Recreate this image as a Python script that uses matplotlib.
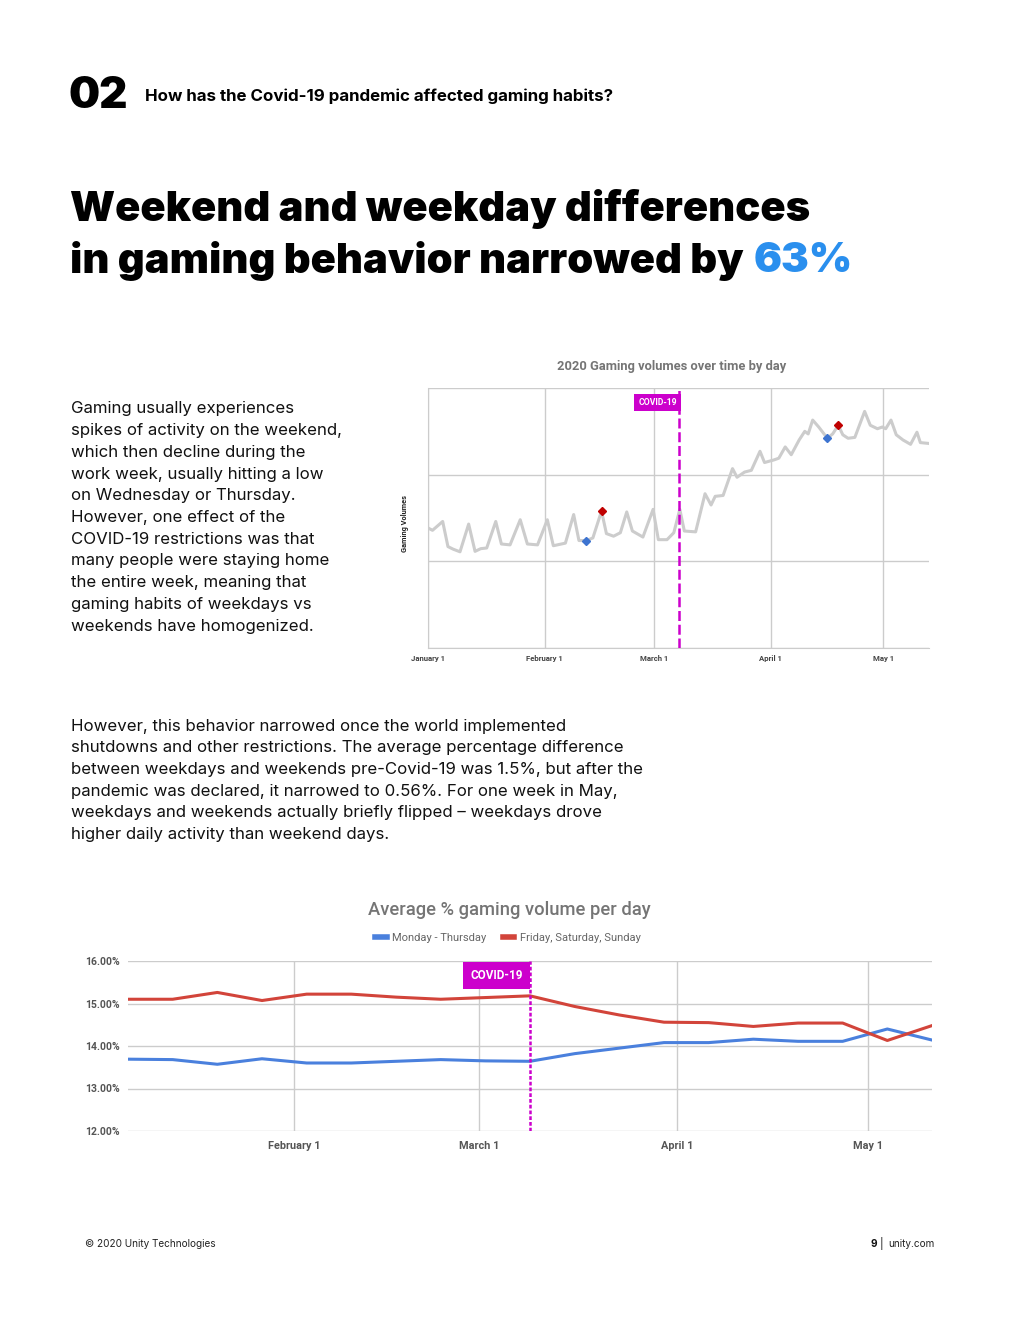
import matplotlib
matplotlib.use('agg')
import matplotlib.pyplot as plt
import numpy as np

W, H = 1020, 1320

# top chart: day of year (Jan 1 = 0) and relative gaming volume
vol_days = [0, 1.2, 3.9, 5.3, 6.7, 8.5, 10.8, 12.5, 14.0, 15.6, 18.0, 19.5, 21.8, 24.5,
            26.4, 29.1, 31.7, 33.3, 36.5, 38.7, 40.1, 42.1, 43.8, 46.1, 47.4, 49.3,
            51.1, 52.8, 54.3, 57.1, 59.8, 61.2, 63.5, 65.3, 66.9, 68.1, 71.1, 73.6,
            75.2, 76.3, 78.4, 80.9, 82.1, 84.1, 85.9, 88.2, 89.4, 91.9, 93.2, 94.9,
            96.5, 98.6, 100.1, 101.0, 102.2, 103.8, 106.1, 107.5, 109.0, 110.2,
            111.6, 113.4, 116.0, 117.5, 119.4, 120.7, 121.6, 123.0, 124.4, 126.2,
            128.2, 129.9, 130.8, 133.1]
vol_vals = [1.385, 1.358, 1.46, 1.17, 1.14, 1.11, 1.43, 1.115, 1.146, 1.154, 1.46, 1.20,
            1.19, 1.48, 1.20, 1.19, 1.48, 1.18, 1.21, 1.54, 1.24, 1.24, 1.27, 1.58,
            1.32, 1.29, 1.33, 1.57, 1.35, 1.28, 1.60, 1.25, 1.25, 1.33, 1.60, 1.35,
            1.34, 1.78, 1.65, 1.75, 1.76, 2.07, 1.97, 2.03, 2.05, 2.27, 2.14, 2.17,
            2.19, 2.32, 2.23, 2.40, 2.50, 2.47, 2.63, 2.55, 2.42, 2.47, 2.57, 2.46,
            2.42, 2.43, 2.73, 2.57, 2.53, 2.55, 2.53, 2.63, 2.46, 2.40, 2.35, 2.49,
            2.37, 2.36]
low_days, low_vals = [42.1, 106.1], [1.24, 2.42]
high_days, high_vals = [46.1, 109.0], [1.58, 2.57]
covid_day_top = 66.6

# bottom chart: weekly averages
week_days = [5, 12, 19, 26, 33, 40, 47, 54, 61, 68, 75, 82, 89, 96, 103, 110, 117, 124, 131]
mon_thu = [13.69, 13.68, 13.57, 13.70, 13.60, 13.60, 13.64, 13.68, 13.65, 13.64,
           13.82, 13.95, 14.08, 14.08, 14.16, 14.11, 14.11, 14.40, 14.14]
fri_sun = [15.10, 15.10, 15.26, 15.07, 15.22, 15.22, 15.15, 15.10, 15.14, 15.18,
           14.93, 14.73, 14.56, 14.55, 14.46, 14.54, 14.54, 14.13, 14.48]
covid_day_bot = 68.0

month_days = [0, 31, 60, 91, 121]
month_labels = ['January 1', 'February 1', 'March 1', 'April 1', 'May 1']

MAGENTA = '#cc00cc'
BODY = 'Inter'
CHART = 'Roboto'

fig = plt.figure(figsize=(W / 100, H / 100), dpi=100)
fig.patch.set_facecolor('white')


def px_axes(x0, y0, x1, y1):
    return fig.add_axes([x0 / W, 1 - y1 / H, (x1 - x0) / W, (y1 - y0) / H])


def T(x, y, s, **kw):
    kw.setdefault('va', 'center')
    return fig.text(x / W, 1 - y / H, s, **kw)


# header
T(69, 97, '02', fontsize=31.5, fontweight='black', family=BODY)
T(145, 96, 'How has the Covid-19 pandemic affected gaming habits?', fontsize=12.2,
  fontweight='bold', family=BODY)
T(70, 209, 'Weekend and weekday differences', fontsize=30, fontweight='black', family=BODY)
t2 = T(70, 261, 'in gaming behavior narrowed by ', fontsize=30, fontweight='black', family=BODY)
fig.canvas.draw()
bb = t2.get_window_extent(fig.canvas.get_renderer())
T(bb.x1 + 2, 261, '63%', fontsize=30, fontweight='black', family=BODY, color='#2a8fee')

para1 = ['Gaming usually experiences', 'spikes of activity on the weekend,',
         'which then decline during the', 'work week, usually hitting a low',
         'on Wednesday or Thursday.', 'However, one effect of the',
         'COVID-19 restrictions was that', 'many people were staying home',
         'the entire week, meaning that', 'gaming habits of weekdays vs',
         'weekends have homogenized.']
for i, line in enumerate(para1):
    T(71, 409 + i * 21.7, line, fontsize=12.1, family=BODY, color='#111111')

para2 = ['However, this behavior narrowed once the world implemented',
         'shutdowns and other restrictions. The average percentage difference',
         'between weekdays and weekends pre-Covid-19 was 1.5%, but after the',
         'pandemic was declared, it narrowed to 0.56%. For one week in May,',
         'weekdays and weekends actually briefly flipped \u2013 weekdays drove',
         'higher daily activity than weekend days.']
for i, line in enumerate(para2):
    T(71, 726 + i * 21.7, line, fontsize=12.1, family=BODY, color='#111111')

# top chart
ax1 = px_axes(428, 388, 929, 648)
ax1.plot(vol_days, vol_vals, color='#cccccc', lw=2.2, zorder=2)
ax1.plot(low_days, low_vals, 'D', color='#3d74d0', ms=4, zorder=3)
ax1.plot(high_days, high_vals, 'D', color='#c00000', ms=4, zorder=3)
ax1.axvline(covid_day_top, color=MAGENTA, lw=1.8, ls=(0, (4, 1.5)), zorder=4)
ax1.set_xlim(0, 133.1)
ax1.set_ylim(0, 3)
ax1.set_xticks(month_days)
ax1.set_xticklabels(month_labels, fontsize=5.6, fontweight='bold', family=CHART, color='#444444')
ax1.set_yticks([0, 1, 2, 3])
ax1.set_yticklabels([])
ax1.tick_params(length=0, pad=5)
ax1.grid(True, color='#cccccc', lw=1)
ax1.set_axisbelow(True)
for s in ['top', 'right']:
    ax1.spines[s].set_visible(False)
for s in ['left', 'bottom']:
    ax1.spines[s].set_color('#cccccc')
ax1.text(covid_day_top - 0.5, 2.835, 'COVID-19', ha='right', va='center', fontsize=6.2,
         fontweight='bold', family=CHART, color='white',
         bbox=dict(boxstyle='square,pad=0.45', fc=MAGENTA, ec='none'))
T(672, 366, '2020 Gaming volumes over time by day', ha='center', fontsize=9.3,
  fontweight='bold', family=CHART, color='#757575')
T(405, 523, 'Gaming Volumes', ha='center', rotation=90, fontsize=5.3, fontweight='bold',
  family=CHART, color='#222222')

# bottom chart
ax2 = px_axes(128, 961, 932, 1131)
ax2.plot(week_days, mon_thu, color='#4a80dd', lw=2.2, label='Monday - Thursday')
ax2.plot(week_days, fri_sun, color='#d2443a', lw=2.2, label='Friday, Saturday, Sunday')
ax2.axvline(covid_day_bot, color=MAGENTA, lw=1.8, ls=(0, (1.5, 0.8)), zorder=4)
ax2.set_xlim(5, 131)
ax2.set_ylim(12, 16)
ax2.set_xticks(month_days[1:])
ax2.set_xticklabels(month_labels[1:], fontsize=7.8, fontweight='bold', family=CHART, color='#555555')
ax2.set_yticks([12, 13, 14, 15, 16])
ax2.set_yticklabels(['12.00%', '13.00%', '14.00%', '15.00%', '16.00%'], fontsize=7.5,
                    fontweight='bold', family=CHART, color='#555555')
ax2.tick_params(length=0)
ax2.tick_params(axis='x', pad=7)
ax2.tick_params(axis='y', pad=6)
ax2.grid(True, color='#cccccc', lw=1)
ax2.set_axisbelow(True)
for s in ax2.spines.values():
    s.set_visible(False)
ax2.text(covid_day_bot - 1.1, 15.66, 'COVID-19', ha='right', va='center', fontsize=8.5,
         fontweight='bold', family=CHART, color='white',
         bbox=dict(boxstyle='square,pad=0.6', fc=MAGENTA, ec='none'))
T(509, 910, 'Average % gaming volume per day', ha='center', fontsize=13.2,
  family=CHART, color='#757575', fontweight='medium')
leg = ax2.legend(loc='center', bbox_to_anchor=(508 / W, 1 - 938 / H), bbox_transform=fig.transFigure,
                 ncol=2, frameon=False, handlelength=1, handleheight=0.6, columnspacing=1.5,
                 handletextpad=0.5, prop=dict(family=CHART, size=8))
for h in leg.legend_handles:
    h.set_linewidth(4)
for t in leg.get_texts():
    t.set_color('#666666')

# footer
T(85, 1244, '\u00a9 2020 Unity Technologies', fontsize=7.2, family=BODY, color='#222222')
T(935, 1244, 'unity.com', ha='right', fontsize=7.2, family=BODY, color='#222222')
T(881, 1244, '|', ha='center', fontsize=8, family=BODY, color='#222222')
T(877, 1244, '9', ha='right', fontsize=7.2, family=BODY, fontweight='bold', color='#111111')

fig.savefig('out.png', dpi=100)
